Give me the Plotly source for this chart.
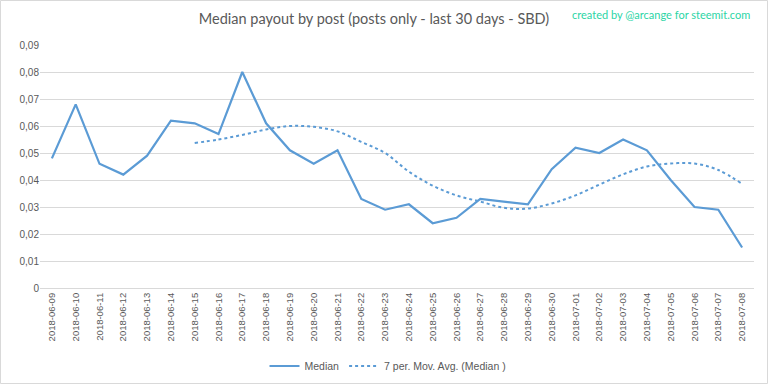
import plotly.graph_objects as go

dates = ["2018-06-09","2018-06-10","2018-06-11","2018-06-12","2018-06-13","2018-06-14",
         "2018-06-15","2018-06-16","2018-06-17","2018-06-18","2018-06-19","2018-06-20",
         "2018-06-21","2018-06-22","2018-06-23","2018-06-24","2018-06-25","2018-06-26",
         "2018-06-27","2018-06-28","2018-06-29","2018-06-30","2018-07-01","2018-07-02",
         "2018-07-03","2018-07-04","2018-07-05","2018-07-06","2018-07-07","2018-07-08"]

median = [0.048,0.068,0.046,0.042,0.049,0.062,0.061,0.057,0.080,0.061,0.051,0.046,
          0.051,0.033,0.029,0.031,0.024,0.026,0.033,0.032,0.031,0.044,0.052,0.050,
          0.055,0.051,0.040,0.030,0.029,0.015]

mov_avg = [None,None,None,None,None,None,
           0.0537,0.0550,0.0567,0.0587,0.0600,0.0597,0.0580,0.0541,0.0500,0.0431,
           0.0379,0.0343,0.0320,0.0297,0.0294,0.0313,0.0343,0.0383,0.0421,0.0450,
           0.0461,0.0461,0.0437,0.0386]

blue = "#5b9bd5"
grey = "#595959"

fig = go.Figure()
fig.add_trace(go.Scatter(x=dates, y=median, mode="lines", name="Median",
                         line=dict(color=blue, width=2.2)))
fig.add_trace(go.Scatter(x=dates, y=mov_avg, mode="lines", name="7 per. Mov. Avg. (Median )",
                         line=dict(color=blue, width=2, dash="dot", shape="spline")))

L, R, T, B = 40, 14, 45, 96
pw = 768 - L - R
ph = 384 - T - B

fig.update_layout(
    width=768, height=384,
    margin=dict(l=L, r=R, t=T, b=B, autoexpand=False),
    paper_bgcolor="white", plot_bgcolor="white",
    separators=",.",
    font=dict(family="Liberation Sans", color=grey, size=10),
    title=dict(text="Median payout by post (posts only - last 30 days - SBD)",
               x=374 / 768, xref="container", xanchor="center",
               y=1 - 19 / 384, yref="container", yanchor="middle",
               automargin=False,
               font=dict(family="Lato", size=14.5, color=grey)),
    showlegend=True,
    legend=dict(orientation="h", x=(388 - L) / pw, xanchor="center", y=(288 - 366) / ph,
                yanchor="middle", font=dict(size=10.5, color=grey), itemwidth=30,
                bgcolor="rgba(0,0,0,0)"),
    xaxis=dict(type="category", tickangle=-90, showgrid=False, showline=True, automargin=False,
               linecolor="#d9d9d9", linewidth=1, ticks="", tickfont=dict(size=9.5, color=grey),
               range=[-0.5, len(dates) - 0.5], zeroline=False),
    yaxis=dict(range=[0, 0.09], dtick=0.01, showgrid=True, gridcolor="#d9d9d9", gridwidth=1,
               automargin=False, zeroline=False, showline=False, ticks="",
               tickfont=dict(size=10, color=grey)),
    annotations=[dict(text="created by @arcange for steemit.com", xref="paper", yref="paper",
                      x=(752 - L) / pw, xanchor="right", y=(288 - 14) / ph, yanchor="middle",
                      showarrow=False, font=dict(family="Lato", size=11, color="#2bd5a5"))],
    shapes=[dict(type="rect", xref="paper", yref="paper",
                 x0=(0.5 - L) / pw, x1=(767.5 - L) / pw,
                 y0=(288 - 383.5) / ph, y1=(288 - 0.5) / ph,
                 line=dict(color="#d9d9d9", width=1), fillcolor="rgba(0,0,0,0)", layer="below")],
)

fig.write_html("out.html", config={"displayModeBar": False, "staticPlot": True},
               post_script="document.body.style.margin='0';document.body.style.overflow='hidden';")
